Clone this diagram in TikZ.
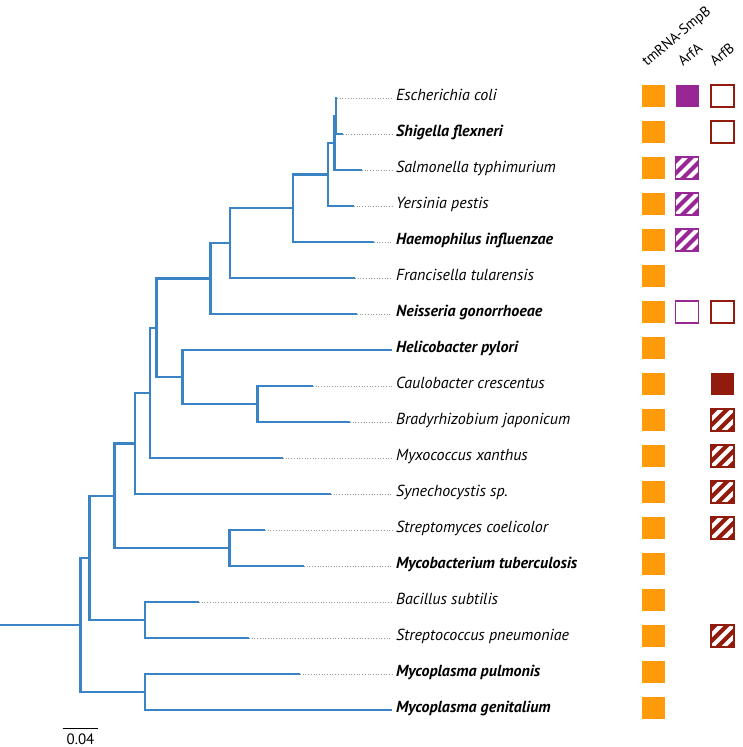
\documentclass[tikz,border=0pt]{standalone}
\usepackage{fontspec}
\setmainfont{PT Sans}
\usetikzlibrary{positioning}
\definecolor{treeblue}{HTML}{3A83C4}
\definecolor{tmorange}{HTML}{FF9A0B}
\definecolor{arfapurple}{HTML}{982694}
\definecolor{arfbred}{HTML}{911B0D}

\begin{document}
\begin{tikzpicture}[x=1pt,y=-1pt,
branch/.style={draw=treeblue,line width=2.3pt},
species/.style={anchor=west,inner sep=0pt,text height=1.5ex,text depth=.4ex,font=\fontsize{16}{16}\selectfont\itshape},
speciesbold/.style={species,font=\fontsize{16}{16}\selectfont\bfseries\itshape},
head/.style={rotate=40,anchor=base west,inner sep=0pt,font=\fontsize{14.5}{14.5}\selectfont},
box/.style={minimum width=23pt,minimum height=22pt,inner sep=0pt},
tmbox/.style={box,fill=tmorange},
fullbox/.style={box,fill=#1},
emptybox/.style={box,draw=#1,fill=white,line width=1.2pt},
hatchbox/.style={box,draw=#1,fill=#1,line width=1.2pt,
  path picture={\foreach \t in {-6,0,6}
    \draw[white,line width=4pt] ([shift={({\t-20},{\t+20})}]path picture bounding box.center)
      -- ([shift={({\t+20},{\t-20})}]path picture bounding box.center);}}
]

\tikzstyle{dotline} = [gray!80,dotted,line width=0.7pt,shorten >=4pt]

\useasboundingbox (0,0) rectangle (742,747);

% leaves
\foreach \n/\tip/\row/\name/\st in {
  ecoli/337/0/Escherichia coli/species,
  shigella/343/1/Shigella flexneri/speciesbold,
  salmonella/362/2/Salmonella typhimurium/species,
  yersinia/354/3/Yersinia pestis/species,
  haemophilus/374/4/Haemophilus influenzae/speciesbold,
  francisella/355/5/Francisella tularensis/species,
  neisseria/357/6/Neisseria gonorrhoeae/speciesbold,
  helicobacter/392/7/Helicobacter pylori/speciesbold,
  caulobacter/313/8/Caulobacter crescentus/species,
  bradyrhizobium/350/9/Bradyrhizobium japonicum/species,
  myxococcus/283/10/Myxococcus xanthus/species,
  synechocystis/331/11/Synechocystis sp./species,
  streptomyces/265/12/Streptomyces coelicolor/species,
  mycobacterium/304/13/Mycobacterium tuberculosis/speciesbold,
  bacillus/199/14/Bacillus subtilis/species,
  streptococcus/249/15/Streptococcus pneumoniae/species,
  mpulmonis/300/16/Mycoplasma pulmonis/speciesbold,
  mgenitalium/392/17/Mycoplasma genitalium/speciesbold}
{
  \coordinate (\n) at (\tip,{98+36*\row});
  \node (L\n) [\st] at (396,{98+36*\row}) {\name};
  \draw[dotline] (\n) -- (L\n);
  \node (tm\n) [tmbox] at (653,{96+36*\row}) {};
}

% inner nodes
\coordinate (nA) at (336,116);
\coordinate (nB) at (334.5,143);
\coordinate (nC) at (328,174.5);
\coordinate (nD) at (293,208.3);
\coordinate (nE) at (230,243.1);
\coordinate (nF) at (210.5,278.6);
\coordinate (nI) at (257.5,404);
\coordinate (nH) at (182.5,377);
\coordinate (nG) at (156.5,327.8);
\coordinate (nJ) at (150,392.9);
\coordinate (nK) at (135,443.4);
\coordinate (nL) at (229.5,548);
\coordinate (nM) at (114.5,495.7);
\coordinate (nN) at (145,620);
\coordinate (nO) at (89.5,557.9);
\coordinate (nP) at (145,692);
\coordinate (nR) at (80.5,625);
\coordinate (root) at (0,625);

\draw[branch] (ecoli) -| (nA) |- (shigella);
\draw[branch] (nA) -| (nB) |- (salmonella);
\draw[branch] (nB) -| (nC) |- (yersinia);
\draw[branch] (nC) -| (nD) |- (haemophilus);
\draw[branch] (nD) -| (nE) |- (francisella);
\draw[branch] (nE) -| (nF) |- (neisseria);
\draw[branch] (caulobacter) -| (nI) |- (bradyrhizobium);
\draw[branch] (helicobacter) -| (nH) |- (nI);
\draw[branch] (nF) -| (nG) |- (nH);
\draw[branch] (nG) -| (nJ) |- (myxococcus);
\draw[branch] (nJ) -| (nK) |- (synechocystis);
\draw[branch] (streptomyces) -| (nL) |- (mycobacterium);
\draw[branch] (nK) -| (nM) |- (nL);
\draw[branch] (bacillus) -| (nN) |- (streptococcus);
\draw[branch] (nM) -| (nO) |- (nN);
\draw[branch] (mpulmonis) -| (nP) |- (mgenitalium);
\draw[branch] (nO) -| (nR) |- (nP);
\draw[branch] (root) -- (nR);

% scale bar
\coordinate (barL) at (62.5,728.5);
\coordinate (barR) at (98,728.5);
\draw[line width=1.6pt] (barL) -- (barR);
\node (barlabel) [anchor=base,inner sep=0pt,font=\fontsize{15}{15}\selectfont] at (80.5,744) {0.04};

% column heads
\node (htm) [head] at (647,67) {tmRNA-SmpB};
\node (harfa) [head] at (683,67) {ArfA};
\node (harfb) [head] at (715,67) {ArfB};

% ArfA
\node (aecoli) [fullbox=arfapurple] at (687,96) {};
\node (asalmonella) [hatchbox=arfapurple] at (687,168) {};
\node (ayersinia) [hatchbox=arfapurple] at (687,204) {};
\node (ahaemophilus) [hatchbox=arfapurple] at (687,240) {};
\node (aneisseria) [emptybox=arfapurple] at (687,312) {};

% ArfB
\node (becoli) [emptybox=arfbred] at (722.5,96) {};
\node (bshigella) [emptybox=arfbred] at (722.5,132) {};
\node (bneisseria) [emptybox=arfbred] at (722.5,312) {};
\node (bcaulobacter) [fullbox=arfbred] at (722.5,384) {};
\node (bbradyrhizobium) [hatchbox=arfbred] at (722.5,420) {};
\node (bmyxococcus) [hatchbox=arfbred] at (722.5,456) {};
\node (bsynechocystis) [hatchbox=arfbred] at (722.5,492) {};
\node (bstreptomyces) [hatchbox=arfbred] at (722.5,528) {};
\node (bstreptococcus) [hatchbox=arfbred] at (722.5,636) {};

\end{tikzpicture}
\end{document}
